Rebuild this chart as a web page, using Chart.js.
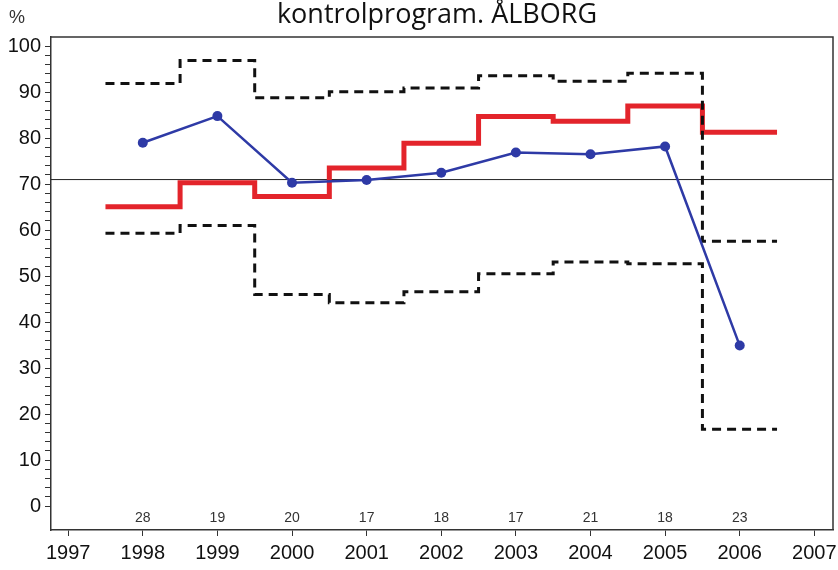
<!DOCTYPE html>
<html>
<head>
<meta charset="utf-8">
<script src="https://cdn.jsdelivr.net/npm/chart.js@4"></script>
<style>
  body { margin: 0; background: #fff; }
</style>
</head>
<body>
<canvas id="myChart" width="838" height="570"></canvas>
<script>
const years = [1998, 1999, 2000, 2001, 2002, 2003, 2004, 2005, 2006];
const yearTicks = [1997, 1998, 1999, 2000, 2001, 2002, 2003, 2004, 2005, 2006, 2007];
const rate = [79.0, 84.8, 70.3, 70.9, 72.5, 76.9, 76.5, 78.2, 34.9];
const mean = [65.1, 70.3, 67.3, 73.5, 78.9, 84.7, 83.7, 87.0, 81.3];
const upper = [91.9, 96.9, 88.8, 90.1, 90.9, 93.6, 92.4, 94.1, 57.6];
const lower = [59.3, 61.0, 46.0, 44.2, 46.6, 50.5, 53.1, 52.7, 16.7];
const counts = [28, 19, 20, 17, 18, 17, 21, 18, 23];
const refLevel = 71;
const countLevel = -2.6;

const xMin = 1996.77, xMax = 2007.25;

// each year's value held from year-0.5 to year+0.5
function steps(vals) {
    const pts = [];
    vals.forEach((v, i) => {
        pts.push({x: years[i] - 0.5, y: v});
        pts.push({x: years[i] + 0.5, y: v});
    });
    return pts;
}

const extras = {
    id: 'extras',
    afterDraw(chart) {
        const ctx = chart.ctx;
        const a = chart.chartArea;
        const x = chart.scales.x, y = chart.scales.y;
        ctx.save();
        // frame top/right
        ctx.strokeStyle = '#333';
        ctx.lineWidth = 1.5;
        ctx.beginPath();
        ctx.moveTo(a.left, a.top);
        ctx.lineTo(a.right, a.top);
        ctx.lineTo(a.right, a.bottom);
        ctx.stroke();
        // counts
        ctx.fillStyle = '#333';
        ctx.font = '14px "Liberation Sans"';
        ctx.textAlign = 'center';
        ctx.textBaseline = 'middle';
        counts.forEach((n, i) => {
            ctx.fillText(String(n), x.getPixelForValue(years[i]), y.getPixelForValue(countLevel));
        });
        // title and unit
        ctx.fillStyle = '#111';
        ctx.font = '27px "Open Sans"';
        ctx.textBaseline = 'alphabetic';
        ctx.fillText('kontrolprogram. ÅLBORG', 437, 23);
        ctx.fillStyle = '#333';
        ctx.font = '18px "Liberation Sans"';
        ctx.fillText('%', 17, 23);
        ctx.restore();
    }
};

const config = {
    type: 'line',
    data: {
        datasets: [
            {
                data: years.map((yr, i) => ({x: yr, y: rate[i]})),
                borderColor: '#2e3aa6',
                backgroundColor: '#2e3aa6',
                borderWidth: 2.5,
                pointRadius: 5,
                pointBorderWidth: 0
            },
            {
                data: steps(upper),
                borderColor: '#111',
                borderWidth: 3,
                borderDash: [9, 6],
                pointRadius: 0
            },
            {
                data: steps(lower),
                borderColor: '#111',
                borderWidth: 3,
                borderDash: [9, 6],
                pointRadius: 0
            },
            {
                data: steps(mean),
                borderColor: '#e3242b',
                borderWidth: 5,
                pointRadius: 0
            },
            {
                data: [{x: xMin, y: refLevel}, {x: xMax, y: refLevel}],
                borderColor: '#222',
                borderWidth: 1,
                pointRadius: 0
            }
        ]
    },
    options: {
        responsive: false,
        animation: false,
        layout: {padding: {top: 37, right: 5, left: 0, bottom: 0}},
        plugins: {
            legend: {display: false},
            tooltip: {enabled: false}
        },
        scales: {
            x: {
                type: 'linear',
                min: xMin,
                max: xMax,
                afterBuildTicks: s => { s.ticks = yearTicks.map(v => ({value: v})); },
                afterFit: s => { s.height = 40; s.paddingLeft = 0; s.paddingRight = 0; },
                grid: {drawOnChartArea: false, tickLength: 6, color: '#333'},
                border: {color: '#333', width: 1.5},
                ticks: {
                    callback: v => String(v),
                    color: '#111',
                    padding: 5,
                    maxRotation: 0,
                    font: {family: 'Liberation Sans', size: 20}
                }
            },
            y: {
                min: -5.2,
                max: 102,
                afterBuildTicks: s => {
                    const t = [];
                    for (let v = 0; v <= 100; v += 2) t.push({value: v});
                    s.ticks = t;
                },
                afterFit: s => { s.width = 51; s.paddingTop = 0; s.paddingBottom = 0; },
                grid: {drawOnChartArea: false, tickLength: 6, color: '#333'},
                border: {color: '#333', width: 1.5},
                ticks: {
                    callback: v => (v % 10 === 0 ? String(v) : ''),
                    color: '#111',
                    padding: 4,
                    autoSkip: false,
                    font: {family: 'Liberation Sans', size: 20}
                }
            }
        }
    },
    plugins: [extras]
};

const myChart = new Chart(document.getElementById('myChart'), config);
</script>
</body>
</html>
